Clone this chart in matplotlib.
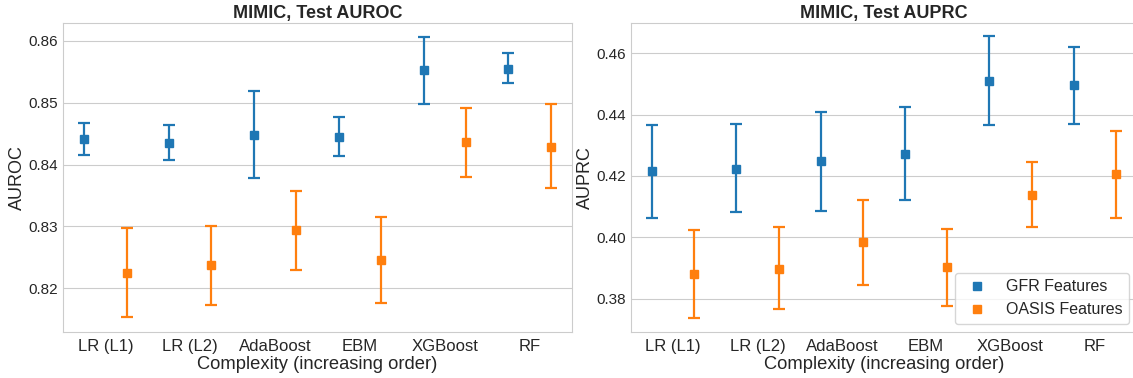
import numpy as np
import matplotlib
matplotlib.use("Agg")
import matplotlib.pyplot as plt
import seaborn as sns

models = ["LR (L1)", "LR (L2)", "AdaBoost", "EBM", "XGBoost", "RF"]

# AUROC: mean, lower, upper
auroc_gfr = [0.8441, 0.8435, 0.8448, 0.8445, 0.8552, 0.8555]
auroc_gfr_lo = [0.8416, 0.8407, 0.8378, 0.8414, 0.8498, 0.8532]
auroc_gfr_hi = [0.8467, 0.8464, 0.8519, 0.8477, 0.8606, 0.8580]
auroc_oasis = [0.8225, 0.8237, 0.8294, 0.8246, 0.8436, 0.8429]
auroc_oasis_lo = [0.8153, 0.8173, 0.8229, 0.8177, 0.8380, 0.8362]
auroc_oasis_hi = [0.8298, 0.8301, 0.8358, 0.8316, 0.8491, 0.8497]

# AUPRC: mean, lower, upper
auprc_gfr = [0.4215, 0.4224, 0.4248, 0.4273, 0.4511, 0.4496]
auprc_gfr_lo = [0.4063, 0.4081, 0.4086, 0.4122, 0.4366, 0.4370]
auprc_gfr_hi = [0.4367, 0.4369, 0.4410, 0.4424, 0.4656, 0.4621]
auprc_oasis = [0.3880, 0.3898, 0.3983, 0.3902, 0.4139, 0.4205]
auprc_oasis_lo = [0.3737, 0.3765, 0.3844, 0.3776, 0.4034, 0.4063]
auprc_oasis_hi = [0.4023, 0.4032, 0.4122, 0.4028, 0.4245, 0.4348]

sns.set_style("whitegrid")
plt.rcParams['font.family'] = ['Liberation Sans', 'DejaVu Sans']

fig = plt.figure(figsize=(11.33, 3.78), dpi=100)
ax1 = fig.add_axes([0.0556, 0.1225, 0.4493, 0.8158])
ax2 = fig.add_axes([0.5569, 0.1225, 0.4466, 0.8158])

x = np.arange(len(models))


def draw(ax, mean, lo, hi, xpos, color, label):
    mean = np.array(mean)
    err = [mean - np.array(lo), np.array(hi) - mean]
    ax.errorbar(xpos, mean, yerr=err, fmt='s', color=color, ecolor=color,
                markersize=6, elinewidth=1.6, capsize=4, capthick=1.6,
                label=label)


draw(ax1, auroc_gfr, auroc_gfr_lo, auroc_gfr_hi, x - 0.25, '#1f77b4', 'GFR Features')
draw(ax1, auroc_oasis, auroc_oasis_lo, auroc_oasis_hi, x + 0.25, '#ff7f0e', 'OASIS Features')
draw(ax2, auprc_gfr, auprc_gfr_lo, auprc_gfr_hi, x - 0.25, '#1f77b4', 'GFR Features')
draw(ax2, auprc_oasis, auprc_oasis_lo, auprc_oasis_hi, x + 0.25, '#ff7f0e', 'OASIS Features')

ax1.set_ylim(0.8130, 0.8628)
ax1.set_yticks([0.82, 0.83, 0.84, 0.85, 0.86])
ax2.set_ylim(0.3692, 0.4698)
ax2.set_yticks([0.38, 0.40, 0.42, 0.44, 0.46])

for ax, title, ylab in [(ax1, "MIMIC, Test AUROC", "AUROC"),
                        (ax2, "MIMIC, Test AUPRC", "AUPRC")]:
    ax.set_xlim(-0.5, 5.5)
    ax.set_xticks(x)
    ax.set_xticklabels(models, fontsize=12)
    ax.tick_params(axis='x', length=0, pad=5.5)
    ax.tick_params(axis='y', labelsize=11, length=0, pad=3.4)
    ax.grid(axis='x', visible=False)
    ax.set_title(title, fontsize=13, fontweight='bold', pad=4)
    ax.set_xlabel("Complexity (increasing order)", fontsize=13.2, labelpad=1)
    ax.set_ylabel(ylab, fontsize=13, labelpad=2)

handles, labels = ax2.get_legend_handles_labels()
handles = [h[0] for h in handles]
ax2.legend(handles, labels, loc='lower right', fontsize=11.5, frameon=True,
           numpoints=1)

fig.savefig("out.png", dpi=100)
